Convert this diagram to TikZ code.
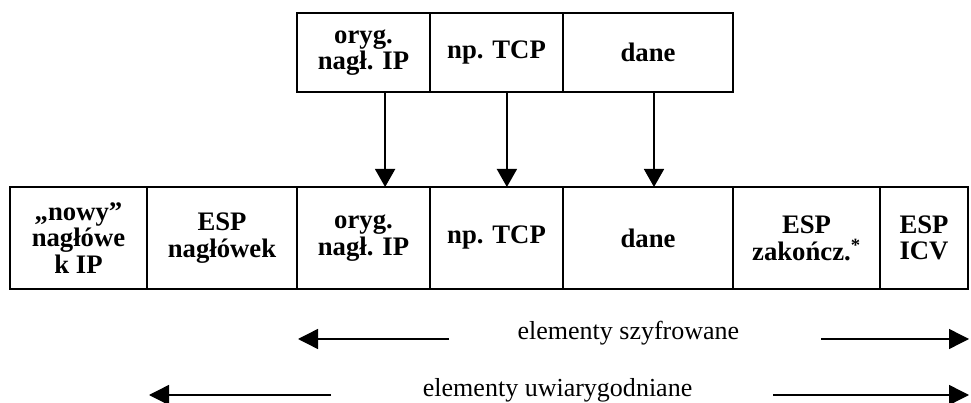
\documentclass[tikz,border=0pt]{standalone}
\usepackage{fontspec}
\setmainfont{Liberation Serif}
\usetikzlibrary{arrows.meta}

\tikzset{
  cell/.style={draw, rectangle, line width=1.5pt, minimum width=#1,
    inner sep=0pt, outer sep=0pt, align=center,
    font=\bfseries\fontsize{19}{19}\selectfont},
  toprow/.style={minimum height=1.975cm},
  botrow/.style={minimum height=2.55cm},
  down/.style={line width=1.2pt, -{Triangle[length=4.5mm,width=5mm]}},
  span/.style={line width=1pt, -{Triangle[length=5mm,width=5mm]}},
  spantext/.style={anchor=base, inner sep=0pt, font=\fontsize{18.5}{19}\selectfont}
}

\begin{document}
\begin{tikzpicture}
\useasboundingbox (0,0) rectangle (24.275,10.075);
% pakiet wejsciowy
\node[cell=3.325cm, toprow] (t1) at (9.0875,8.7625) {oryg.\\nagł. IP};
\node[cell=3.325cm, toprow] (t2) at (12.4125,8.7625) {np. TCP};
\node[cell=4.25cm, toprow] (t3) at (16.2,8.7625) {dane};
% pakiet ESP (tryb tunelowy)
\node[cell=3.425cm, botrow] (b1) at (1.9625,4.125) {„nowy”\\nagłówe\\k IP};
\node[cell=3.75cm, botrow] (b2) at (5.55,4.125) {ESP\\nagłówek};
\node[cell=3.325cm, botrow] (b3) at (9.0875,4.125) {oryg.\\nagł. IP};
\node[cell=3.325cm, botrow] (b4) at (12.4125,4.125) {np. TCP};
\node[cell=4.25cm, botrow] (b5) at (16.2,4.125) {dane};
\node[cell=3.675cm, botrow] (b6) at (20.1625,4.125) {ESP\\zakończ.\textsuperscript{*}};
\node[cell=2.2cm, botrow] (b7) at (23.1,4.125) {ESP\\ICV};
% przeniesienie pol
\draw[down] ([xshift=.54cm]t1.south) -- ([xshift=.54cm]b3.north);
\draw[down] ([xshift=.26cm]t2.south) -- ([xshift=.26cm]b4.north);
\draw[down] ([xshift=.15cm]t3.south) -- ([xshift=.15cm]b5.north);
% zakresy
\coordinate (szL) at (7.45,1.6);
\coordinate (szLt) at (11.225,1.6);
\coordinate (szRt) at (20.525,1.6);
\coordinate (szR) at (24.225,1.6);
\node[spantext] (szyfr) at (15.71,1.575) {elementy szyfrowane};
\draw[span] (szLt) -- (szL);
\draw[span] (szRt) -- (szR);
\coordinate (uwL) at (3.725,0.2);
\coordinate (uwLt) at (8.275,0.2);
\coordinate (uwRt) at (19.325,0.2);
\coordinate (uwR) at (24.225,0.2);
\node[spantext] (uwiar) at (13.94,0.15) {elementy uwiarygodniane};
\draw[span] (uwLt) -- (uwL);
\draw[span] (uwRt) -- (uwR);
\end{tikzpicture}
\end{document}
